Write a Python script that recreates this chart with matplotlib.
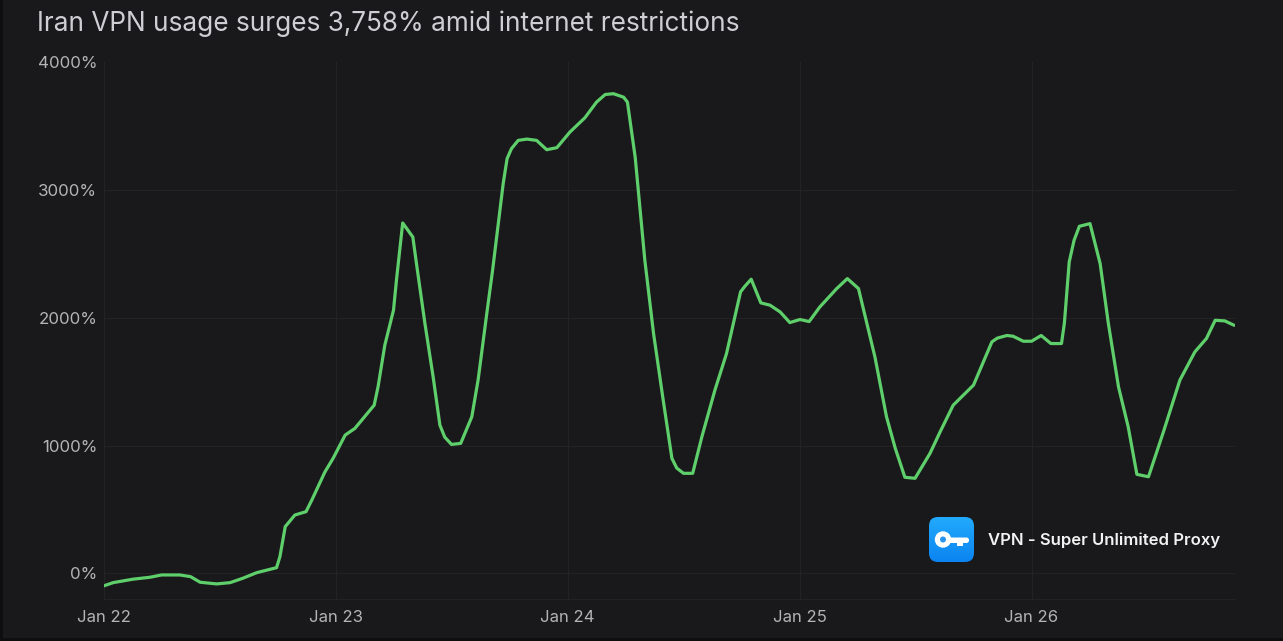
"""Iran VPN usage line chart, dark theme."""

import matplotlib.pyplot as plt
import numpy as np
from matplotlib.colors import LinearSegmentedColormap
from matplotlib.patches import Circle, FancyBboxPatch, Rectangle

# Hours since Jan 22 00:00
hours = [0, 1.0, 3.05, 4.8, 6.0, 7.9, 9.0, 10.0, 11.7, 13.1, 14.4, 15.85, 17.9, 18.25, 18.8, 19.8, 20.95, 21.55,
         22.9, 23.75, 25.0, 26.0, 28.0, 28.4, 29.1, 30.0, 30.3, 30.95, 32.0, 32.4, 33.25, 34.1, 34.8, 35.3, 36.0,
         36.95, 38.1, 38.75, 39.65, 40.25, 41.35, 41.75, 42.2, 42.9, 43.8, 44.8, 45.85, 46.9, 48.25, 49.8, 51.0,
         51.9, 52.75, 53.8, 54.2, 55.0, 56.0, 56.9, 57.9, 58.8, 59.3, 60.0, 60.95, 61.9, 63.25, 64.45, 65.9, 66.35,
         67.0, 68.0, 68.95, 70.0, 71.0, 72.05, 73.0, 74.1, 75.85, 76.95, 78.1, 79.8, 81.0, 81.9, 82.9, 83.95, 85.5,
         86.55, 87.9, 90.0, 91.9, 92.45, 93.45, 94.1, 95.15, 96.0, 97.0, 98.0, 99.1, 99.4, 99.9, 100.4, 100.95,
         102.05, 103.1, 103.95, 105.0, 106.0, 106.9, 108.1, 109.65, 111.35, 112.9, 114.1, 115.0, 116.0, 116.95]
usage = [-98, -72, -45, -30, -12, -12, -25, -69, -82, -72, -38, 6, 45, 131, 366, 457, 483, 574,
         793, 900, 1082, 1134, 1316, 1459, 1785, 2059, 2290, 2741, 2631, 2410, 1955, 1537, 1160, 1066, 1009,
         1017, 1225, 1512, 2033, 2371, 3051, 3244, 3322, 3387, 3397, 3387, 3314, 3330, 3452, 3564, 3686,
         3746, 3752, 3725, 3686, 3256, 2449, 1877, 1355, 900, 824, 783, 783, 1069, 1434, 1720, 2202, 2246,
         2301, 2116, 2098, 2045, 1962, 1986, 1970, 2084, 2228, 2306, 2228, 1694, 1225, 980, 752, 744, 939,
         1108, 1316, 1473, 1811, 1840, 1861, 1855, 1816, 1816, 1861, 1798, 1798, 1957, 2436, 2605, 2715,
         2736, 2423, 1955, 1459, 1147, 775, 756, 1108, 1512, 1733, 1838, 1980, 1975, 1941]

day_ticks = [0, 24, 48, 72, 96]
day_labels = ["Jan 22", "Jan 23", "Jan 24", "Jan 25", "Jan 26"]
pct_ticks = [0, 1000, 2000, 3000, 4000]
pct_labels = ["0%", "1000%", "2000%", "3000%", "4000%"]

BG = "#19191b"
EDGE = "#0e0e10"
W, H = 1283, 641

plt.rcParams["font.family"] = ["Inter", "DejaVu Sans"]

fig = plt.figure(figsize=(W / 100, H / 100), dpi=100, facecolor=BG)
ax = fig.add_axes([103.5 / W, 1 - 599 / H, (1235 - 103.5) / W, (599 - 62) / H], facecolor=BG)

ax.plot(hours, usage, color="#5ecf6a", lw=2.3, solid_joinstyle="round", solid_capstyle="round", zorder=3)

ax.set_xlim(0, 117.05)
ax.set_ylim(-200, 4000)
ax.set_xticks(day_ticks)
ax.set_xticklabels(day_labels, fontsize=12, color="#b4b4b6")
ax.set_yticks(pct_ticks)
ax.set_yticklabels(pct_labels, fontsize=12.2, color="#b4b4b6")
ax.tick_params(length=0, axis="x", pad=8)
ax.tick_params(length=0, axis="y", pad=4.5)
ax.grid(True, color="#232325", lw=0.8)
ax.get_ygridlines()[-1].set_visible(False)  # no line at the top
ax.set_axisbelow(True)
for side in ["top", "right", "left"]:
    ax.spines[side].set_visible(False)
ax.spines["bottom"].set_color("#232325")

fig.text(37 / W, 1 - 24 / H, "Iran VPN usage surges 3,758% amid internet restrictions",
         fontsize=18.85, color="#cfcfd3", va="center", ha="left")

# App badge and image edges, drawn in pixel coordinates of the figure
overlay = fig.add_axes([0, 0, 1, 1], facecolor="none")
overlay.axis("off")

icon = FancyBboxPatch((929, 517), 45, 45, boxstyle="round,pad=0,rounding_size=9", facecolor="none", edgecolor="none")
overlay.add_patch(icon)
grad = np.linspace(0, 1, 64).reshape(-1, 1)
cmap = LinearSegmentedColormap.from_list("icon", ["#22aafc", "#0b84f1"])
img = overlay.imshow(grad, extent=(929, 974, 562, 517), cmap=cmap, aspect="auto", zorder=4)
img.set_clip_path(icon)
overlay.set_xlim(0, W)
overlay.set_ylim(H, 0)

overlay.add_patch(Circle((943, 539.5), 8.2, facecolor="white", edgecolor="none", zorder=5))
overlay.add_patch(Circle((943, 539.5), 3, facecolor="#2a93ee", edgecolor="none", zorder=6))
overlay.add_patch(FancyBboxPatch((948, 537.5), 21, 5.5, boxstyle="round,pad=0,rounding_size=2.6",
                                 facecolor="white", edgecolor="none", zorder=5))
overlay.add_patch(Rectangle((957, 542), 6, 3.5, facecolor="white", edgecolor="none", zorder=5))

overlay.text(988, 540, "VPN - Super Unlimited Proxy", fontsize=12, fontweight="semibold",
             color="#f2f2f3", va="center", ha="left", zorder=5)

overlay.add_patch(Rectangle((0, 0), 3, H, facecolor=EDGE, edgecolor="none", zorder=7))
overlay.add_patch(Rectangle((0, H - 3), W, 3, facecolor=EDGE, edgecolor="none", zorder=7))

fig.savefig("out.png", dpi=100, facecolor=BG)
